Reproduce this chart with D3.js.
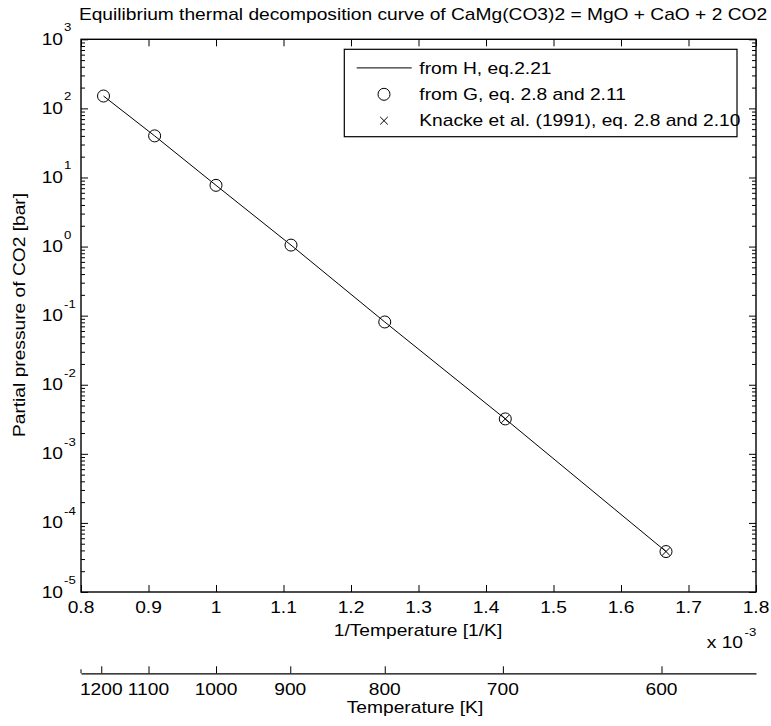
<!DOCTYPE html>
<html>
<head>
<meta charset="utf-8">
<script src="https://cdn.jsdelivr.net/npm/d3@7"></script>
<style>
  html, body { margin: 0; padding: 0; background: #fff; }
  svg { display: block; font-family: "Liberation Sans", Arial, Helvetica, sans-serif; }
  text { fill: #000; }
</style>
</head>
<body>
<svg id="chart" width="771" height="726"></svg>
<script>
// Equilibrium CO2 pressure over dolomite versus reciprocal temperature
const temps = [1200, 1100, 1000, 900, 800, 700, 600];            // K
const pressureH = [151, 40, 7.7, 1.05, 0.081, 0.0032, 3.85e-5];   // bar, eq. 2.21
const pressureG = [151, 40, 7.7, 1.05, 0.081, 0.0032, 3.85e-5];   // bar, eq. 2.8 / 2.11
const knackeTemps = [700, 600];                                    // K
const pressureKnacke = [0.0032, 3.85e-5];                          // bar, eq. 2.8 / 2.10

const xTicks = [0.8, 0.9, 1.0, 1.1, 1.2, 1.3, 1.4, 1.5, 1.6, 1.7, 1.8];   // x 10^-3 1/K
const xTickLabels = ["0.8", "0.9", "1", "1.1", "1.2", "1.3", "1.4", "1.5", "1.6", "1.7", "1.8"];
const yDecades = [3, 2, 1, 0, -1, -2, -3, -4, -5];
const tempTicks = [1200, 1100, 1000, 900, 800, 700, 600];
const tempTickPos = [0.83, 0.90, 1.00, 1.11, 1.25, 1.425, 1.66];   // x 10^-3 1/K

const legendItems = [
  "from H, eq.2.21",
  "from G, eq. 2.8 and 2.11",
  "Knacke et al. (1991), eq. 2.8 and 2.10"
];

const FONT = 16, SUP = 11, SX = 1.2;
const plot = { left: 81, right: 756, top: 39.3, bottom: 592 };

const svg = d3.select("#chart");
const x = d3.scaleLinear().domain([0.8, 1.8]).range([plot.left, plot.right]);
const y = d3.scaleLog().domain([1e-5, 1e3]).range([plot.bottom, plot.top]);
const invT = t => 1000 / t;

// horizontally widened text, anchored at (px, py)
function label(parent, px, py, str, anchor, size, rot) {
  const g = parent.append("g")
    .attr("transform", `translate(${px},${py})` + (rot ? ` rotate(${rot})` : "") + ` scale(${SX},1)`);
  g.append("text").attr("text-anchor", anchor).attr("font-size", size).text(str);
  return g;
}

// title
label(svg, 423, 20, "Equilibrium thermal decomposition curve of CaMg(CO3)2 = MgO + CaO + 2 CO2", "middle", FONT);

// ticks on all four sides, pointing inward
const minorVals = [];
for (let e = -5; e < 3; e++) for (let m = 2; m <= 9; m++) minorVals.push(m * Math.pow(10, e));

const axes = svg.append("g").attr("stroke-width", 1);
function styleAxis(g) {
  g.select(".domain").remove();
  g.selectAll("line").attr("stroke", "#000").attr("stroke-width", 1);
}
axes.append("g").attr("transform", `translate(0,${plot.bottom})`)
  .call(d3.axisBottom(x).tickValues(xTicks).tickSize(-7).tickSizeOuter(0).tickFormat(""))
  .call(styleAxis);
axes.append("g").attr("transform", `translate(0,${plot.top})`)
  .call(d3.axisTop(x).tickValues(xTicks).tickSize(-7).tickSizeOuter(0).tickFormat(""))
  .call(styleAxis);
axes.append("g").attr("transform", `translate(${plot.left},0)`)
  .call(d3.axisLeft(y).tickValues(yDecades.map(e => Math.pow(10, e))).tickSize(-7).tickSizeOuter(0).tickFormat(""))
  .call(styleAxis);
axes.append("g").attr("transform", `translate(${plot.left},0)`)
  .call(d3.axisLeft(y).tickValues(minorVals).tickSize(-4).tickSizeOuter(0).tickFormat(""))
  .call(styleAxis);
axes.append("g").attr("transform", `translate(${plot.right},0)`)
  .call(d3.axisRight(y).tickValues(yDecades.map(e => Math.pow(10, e))).tickSize(-7).tickSizeOuter(0).tickFormat(""))
  .call(styleAxis);
axes.append("g").attr("transform", `translate(${plot.right},0)`)
  .call(d3.axisRight(y).tickValues(minorVals).tickSize(-4).tickSizeOuter(0).tickFormat(""))
  .call(styleAxis);

// frame
svg.append("rect")
  .attr("x", plot.left).attr("y", plot.top)
  .attr("width", plot.right - plot.left).attr("height", plot.bottom - plot.top)
  .attr("fill", "none").attr("stroke", "#000").attr("stroke-width", 1.4);

// x tick labels
xTicks.forEach((v, i) => label(svg, x(v), plot.bottom + 21, xTickLabels[i], "middle", FONT));

// y tick labels as powers of ten
yDecades.forEach(e => {
  const py = y(Math.pow(10, e));
  label(svg, 63, py + 5.5, "10", "end", FONT);
  label(svg, 64, py - 8, String(e), "start", SUP);
});

// axis titles
label(svg, 418, 636, "1/Temperature [1/K]", "middle", FONT);
label(svg, 743, 648, "x 10", "end", FONT);
label(svg, 744.5, 636, "-3", "start", SUP);
label(svg, 25, 315, "Partial pressure of CO2 [bar]", "middle", FONT, -90);

// data line
const line = d3.line().x(d => x(invT(d[0]))).y(d => y(d[1]));
svg.append("path")
  .datum(temps.map((t, i) => [t, pressureH[i]]))
  .attr("d", line).attr("fill", "none").attr("stroke", "#000").attr("stroke-width", 1);

// circle markers
svg.append("g").selectAll("circle")
  .data(temps.map((t, i) => [t, pressureG[i]]))
  .join("circle")
  .attr("cx", d => x(invT(d[0]))).attr("cy", d => y(d[1])).attr("r", 6)
  .attr("fill", "none").attr("stroke", "#000").attr("stroke-width", 1);

// cross markers
const cross = d3.symbol().type(d3.symbolX).size(40);
svg.append("g").selectAll("path")
  .data(knackeTemps.map((t, i) => [t, pressureKnacke[i]]))
  .join("path")
  .attr("transform", d => `translate(${x(invT(d[0]))},${y(d[1])})`)
  .attr("d", cross).attr("fill", "none").attr("stroke", "#000").attr("stroke-width", 1);

// legend
const lg = svg.append("g");
lg.append("rect").attr("x", 344.3).attr("y", 49.3).attr("width", 392.7).attr("height", 87.4)
  .attr("fill", "#fff").attr("stroke", "#000").attr("stroke-width", 1.2);
const rowY = [67.9, 94.3, 120.7];
lg.append("line").attr("x1", 356.7).attr("x2", 411.7).attr("y1", rowY[0]).attr("y2", rowY[0])
  .attr("stroke", "#000").attr("stroke-width", 1);
lg.append("circle").attr("cx", 384).attr("cy", rowY[1]).attr("r", 6)
  .attr("fill", "none").attr("stroke", "#000").attr("stroke-width", 1);
lg.append("path").attr("transform", `translate(384,${rowY[2]})`).attr("d", cross)
  .attr("fill", "none").attr("stroke", "#000").attr("stroke-width", 1);
legendItems.forEach((s, i) => label(lg, 419.3, rowY[i] + 5.7, s, "start", FONT));

// secondary temperature axis
const tAxisY = 673.3;
const tAxis = svg.append("g").attr("transform", `translate(0,${tAxisY})`)
  .call(d3.axisBottom(x).tickValues(tempTickPos).tickSize(-7).tickSizeOuter(0).tickFormat(""));
tAxis.select(".domain").attr("stroke", "#000").attr("stroke-width", 1.2);
tAxis.selectAll("line").attr("stroke", "#000").attr("stroke-width", 1);
svg.append("line").attr("x1", plot.left).attr("x2", plot.left)
  .attr("y1", tAxisY - 4).attr("y2", tAxisY).attr("stroke", "#000").attr("stroke-width", 1);
tempTickPos.forEach((p, i) => label(svg, x(p), 695, String(tempTicks[i]), "middle", FONT));
label(svg, 415, 713, "Temperature [K]", "middle", FONT);
</script>
</body>
</html>
